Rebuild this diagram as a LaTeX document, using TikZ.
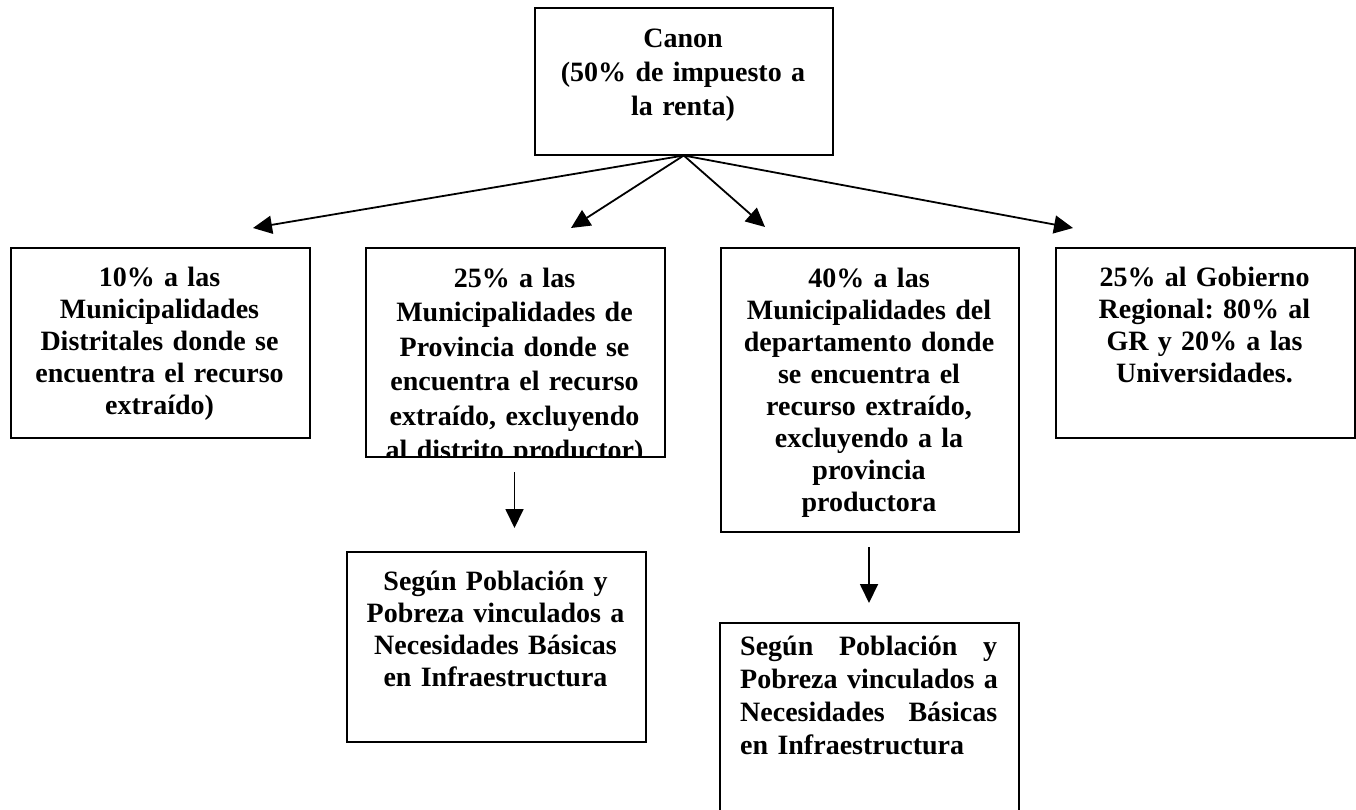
\documentclass[tikz,border=0pt]{standalone}
\usepackage{fontspec}
\setmainfont{Liberation Serif}
\usetikzlibrary{arrows.meta}
\begin{document}
\frenchspacing
\begin{tikzpicture}[x=1pt,y=-1pt,
  box/.style={draw, line width=1.5pt, inner sep=0pt, anchor=north west},
  txt/.style={font=\fontsize{28}{#1}\selectfont\bfseries\frenchspacing, align=center, text width=290pt, inner sep=0pt, anchor=base},
  txt/.default=32.5,
  arr/.style={line width=1.8pt, -{Triangle[length=19pt,width=18pt]}}
]
\useasboundingbox (0,0) rectangle (1356,809);
\clip (0,0) rectangle (1356,809);

% boxes
\node[box, minimum width=298pt, minimum height=147pt] (canon) at (534,7) {};
\node[box, minimum width=299pt, minimum height=190pt] (b1) at (10,247) {};
\node[box, minimum width=299pt, minimum height=209pt] (b2) at (365,247) {};
\node[box, minimum width=298pt, minimum height=284pt] (b3) at (720,247) {};
\node[box, minimum width=299pt, minimum height=190pt] (b4) at (1055,247) {};
\node[box, minimum width=299pt, minimum height=190pt] (b5) at (346,551) {};
\node[box, minimum width=299pt, minimum height=220pt] (b6) at (719,622) {};

% texts
\node[txt=34.3] (tc) at (683,47) {Canon\\(50\% de impuesto a\\la renta)};
\node[txt=32] (t1) at (159.5,286) {10\% a las\\Municipalidades\\Distritales donde se\\encuentra el recurso\\extraído)};
\begin{scope}
\clip (365,247) rectangle (664,456);
\node[txt=34.5] (t2) at (514.5,287) {25\% a las\\Municipalidades de\\Provincia donde se\\encuentra el recurso\\extraído, excluyendo\\al distrito productor)};
\end{scope}
\node[txt=32] (t3) at (869,287) {40\% a las\\Municipalidades del\\departamento donde\\se encuentra el\\recurso extraído,\\excluyendo a la\\provincia\\productora};
\node[txt=32.3] (t4) at (1204.5,286) {25\% al Gobierno\\Regional: 80\% al\\GR y 20\% a las\\Universidades.};
\node[txt=32] (t5) at (495.5,590) {Según Población y\\Pobreza vinculados a\\Necesidades Básicas\\en Infraestructura};
\node[txt=33.3, anchor=base west, align=left] (t6) at (740,655) {\leavevmode\hbox to 257pt{Según\hfill Población\hfill y}\\Pobreza vinculados a\\\leavevmode\hbox to 257pt{Necesidades\hfill Básicas}\\en Infraestructura};

% arrow ends
\coordinate (a1) at (253,228);
\coordinate (a2) at (571,228);
\coordinate (a3) at (765,227);
\coordinate (a4) at (1073,228);
\coordinate (d1s) at (514.5,472);
\coordinate (d1e) at (514.5,528);
\coordinate (d2s) at (869,547);
\coordinate (d2e) at (869,603);

\draw[arr] (canon.south) -- (a1);
\draw[arr] (canon.south) -- (a2);
\draw[arr] (canon.south) -- (a3);
\draw[arr] (canon.south) -- (a4);
\draw[arr] (d1s) -- (d1e);
\draw[arr] (d2s) -- (d2e);
\end{tikzpicture}
\end{document}
